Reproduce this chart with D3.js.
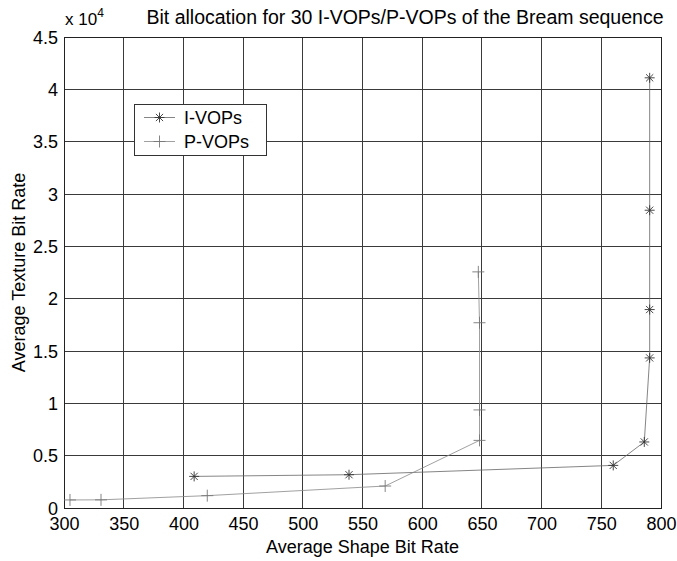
<!DOCTYPE html>
<html><head><meta charset="utf-8">
<script src="https://cdn.jsdelivr.net/npm/d3@7"></script>
<style>body{margin:0;background:#fff}svg{display:block}text{font-family:"Liberation Sans",Arial,sans-serif;fill:#000}</style>
</head><body><svg id="c" width="677" height="561"></svg>
<script>
const xTicks = [300,350,400,450,500,550,600,650,700,750,800];
const yTicks = [0,0.5,1,1.5,2,2.5,3,3.5,4,4.5];
const iShape = [409, 538.7, 760, 786, 790.5, 790.5, 790.5, 790.5];
const iTexture = [3020, 3180, 4070, 6310, 14340, 18960, 28450, 41100];
const pShape = [305, 331, 420, 569, 648, 648, 648, 647];
const pTexture = [770, 780, 1180, 2100, 6460, 9370, 17700, 22560];
const title = "Bit allocation for 30 I-VOPs/P-VOPs of the Bream sequence";

const svg = d3.select("#c");
const L=64,R=661,T=37,B=508;
const x = d3.scaleLinear().domain([300,800]).range([L,R]);
const y = d3.scaleLinear().domain([0,4.5]).range([B,T]);

const g = svg.append("g");
g.selectAll(".gx").data(xTicks).enter().append("line")
 .attr("x1",d=>x(d)).attr("x2",d=>x(d)).attr("y1",T).attr("y2",B)
 .attr("stroke","#3a3a3a").attr("stroke-width",1).attr("shape-rendering","crispEdges");
g.selectAll(".gy").data(yTicks).enter().append("line")
 .attr("y1",d=>y(d)).attr("y2",d=>y(d)).attr("x1",L).attr("x2",R)
 .attr("stroke","#3a3a3a").attr("stroke-width",1).attr("shape-rendering","crispEdges");
const xa = d3.axisBottom(x).tickValues(xTicks).tickSize(0).tickPadding(9).tickFormat(d3.format("d"));
const ya = d3.axisLeft(y).tickValues(yTicks).tickSize(0).tickPadding(6).tickFormat(d=>String(d));
const gx = svg.append("g").attr("transform",`translate(0,${B})`).call(xa);
const gy = svg.append("g").attr("transform",`translate(${L},0)`).call(ya);
[gx,gy].forEach(a=>{a.select(".domain").remove();a.selectAll("text").style("font-size","18px").style("font-family","Liberation Sans, Arial, sans-serif").attr("fill","#000");});
gy.selectAll("text").attr("dy","0.34em");
svg.append("rect").attr("x",L).attr("y",T).attr("width",R-L).attr("height",B-T)
 .attr("fill","none").attr("stroke","#222").attr("stroke-width",1).attr("shape-rendering","crispEdges");

const iData = iShape.map((s,i)=>[s,iTexture[i]/1e4]);
const pData = pShape.map((s,i)=>[s,pTexture[i]/1e4]);
const line = d3.line().x(d=>x(d[0])).y(d=>y(d[1]));
svg.append("path").datum(iData).attr("d",line).attr("fill","none").attr("stroke","#666").attr("stroke-width",0.8);
svg.append("path").datum(pData).attr("d",line).attr("fill","none").attr("stroke","#888").attr("stroke-width",0.8);

function star(sel,cx,cy,r){
  const a=r*0.72;
  sel.append("path").attr("d",`M${cx-r},${cy}H${cx+r}M${cx},${cy-r}V${cy+r}M${cx-a},${cy-a}L${cx+a},${cy+a}M${cx-a},${cy+a}L${cx+a},${cy-a}`)
   .attr("stroke","#333").attr("stroke-width",0.9).attr("fill","none");
}
function plus(sel,cx,cy,r){
  sel.append("path").attr("d",`M${cx-r},${cy}H${cx+r}M${cx},${cy-r}V${cy+r}`)
   .attr("stroke","#777").attr("stroke-width",0.9).attr("fill","none");
}
const mk = svg.append("g");
iData.forEach(d=>star(mk,x(d[0]),y(d[1]),5));
pData.forEach(d=>plus(mk,x(d[0]),y(d[1]),6));

const lg = svg.append("g");
lg.append("rect").attr("x",134.5).attr("y",104.5).attr("width",132).attr("height",51)
 .attr("fill","#fff").attr("stroke","#333").attr("stroke-width",1);
lg.append("line").attr("x1",144).attr("x2",175).attr("y1",117.5).attr("y2",117.5).attr("stroke","#666").attr("stroke-width",0.8);
star(lg,159.5,117.5,5);
lg.append("line").attr("x1",144).attr("x2",175).attr("y1",141.5).attr("y2",141.5).attr("stroke","#888").attr("stroke-width",0.8);
plus(lg,159.5,141.5,6);
lg.append("text").attr("x",184).attr("y",124).text("I-VOPs").style("font-size","18px");
lg.append("text").attr("x",184).attr("y",148).text("P-VOPs").style("font-size","18px");

svg.append("text").attr("x",405).attr("y",24).attr("text-anchor","middle").style("font-size","19.5px").text(title);
const ex = svg.append("text").attr("x",65).attr("y",25).style("font-size","17px");
ex.append("tspan").text("x 10");
ex.append("tspan").attr("dy",-8).style("font-size","12px").text("4");
svg.append("text").attr("x",(L+R)/2).attr("y",553).attr("text-anchor","middle").style("font-size","18px").text("Average Shape Bit Rate");
svg.append("text").attr("transform",`translate(25,${(T+B)/2}) rotate(-90)`).attr("text-anchor","middle").style("font-size","18px").text("Average Texture Bit Rate");
</script></body></html>
